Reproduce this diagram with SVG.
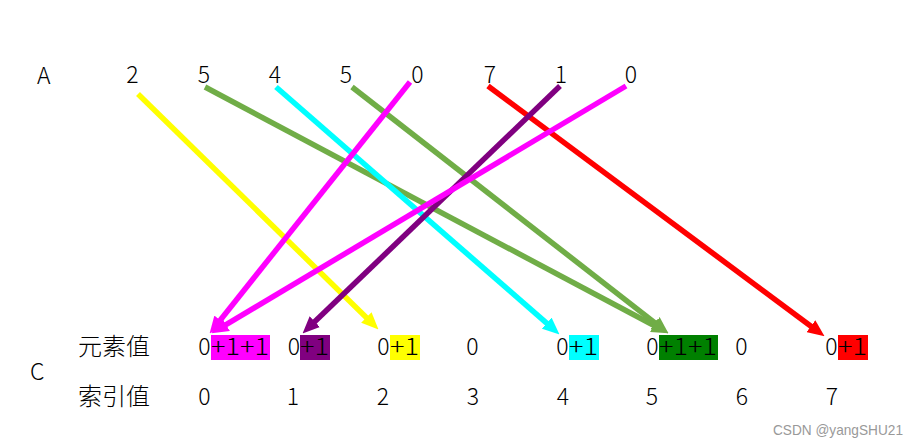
<svg xmlns="http://www.w3.org/2000/svg" width="919" height="447" viewBox="0 0 919 447">
<style>
text{font-family:"Noto Sans CJK SC","Liberation Sans",sans-serif;fill:#000;font-weight:300;}
.t{font-size:23px;}
.m{text-anchor:middle;}
.cn{font-size:24px;}
.ln{fill:none;stroke-width:5.5;}
.wm{font-family:"Liberation Sans",sans-serif;font-weight:400;font-size:14.5px;fill:#999;}
</style>
<defs>
<marker id="hY" viewBox="0 0 16 14" refX="6" refY="7" markerUnits="userSpaceOnUse" markerWidth="17" markerHeight="15" orient="auto"><path d="M0,0 L16,7 L0,14 z" fill="#FFFF00"/></marker>
<marker id="hG" viewBox="0 0 16 14" refX="6" refY="7" markerUnits="userSpaceOnUse" markerWidth="17" markerHeight="15" orient="auto"><path d="M0,0 L16,7 L0,14 z" fill="#70AD47"/></marker>
<marker id="hC" viewBox="0 0 16 14" refX="6" refY="7" markerUnits="userSpaceOnUse" markerWidth="17" markerHeight="15" orient="auto"><path d="M0,0 L16,7 L0,14 z" fill="#00FFFF"/></marker>
<marker id="hM" viewBox="0 0 16 14" refX="6" refY="7" markerUnits="userSpaceOnUse" markerWidth="17" markerHeight="15" orient="auto"><path d="M0,0 L16,7 L0,14 z" fill="#FF00FF"/></marker>
<marker id="hR" viewBox="0 0 16 14" refX="6" refY="7" markerUnits="userSpaceOnUse" markerWidth="17" markerHeight="15" orient="auto"><path d="M0,0 L16,7 L0,14 z" fill="#FF0000"/></marker>
<marker id="hP" viewBox="0 0 16 14" refX="6" refY="7" markerUnits="userSpaceOnUse" markerWidth="17" markerHeight="15" orient="auto"><path d="M0,0 L16,7 L0,14 z" fill="#800080"/></marker>
</defs>
<rect width="919" height="447" fill="#fff"/>

<g id="rowA">
<text class="t" x="37" y="84">A</text>
<text class="t m" x="132.5" y="83">2</text>
<text class="t m" x="204" y="83">5</text>
<text class="t m" x="275" y="83">4</text>
<text class="t m" x="346" y="83">5</text>
<text class="t m" x="417.5" y="83">0</text>
<text class="t m" x="490" y="83">7</text>
<text class="t m" x="561" y="83">1</text>
<text class="t m" x="631" y="83">0</text>
</g>

<g id="labelC">
<text class="t" x="30" y="380">C</text>
<text class="cn" x="78" y="355">元素值</text>
<text class="cn" x="78" y="405">索引值</text>
</g>

<g id="cells">
<rect x="211" y="335" width="59" height="25" fill="#FF00FF"/>
<rect x="300" y="335" width="30" height="25" fill="#800080"/>
<rect x="390" y="335" width="30" height="25" fill="#FFFF00"/>
<rect x="569" y="335" width="30" height="25" fill="#00FFFF"/>
<rect x="659" y="335" width="59" height="25" fill="#008000"/>
<rect x="838" y="335" width="30" height="25" fill="#FF0000"/>
<text class="t m" x="204.5" y="355">0</text>
<text class="t m" x="294" y="355">0</text>
<text class="t m" x="383.5" y="355">0</text>
<text class="t m" x="472.5" y="355">0</text>
<text class="t m" x="562.5" y="355">0</text>
<text class="t m" x="652.5" y="355">0</text>
<text class="t m" x="741.5" y="355">0</text>
<text class="t m" x="831.5" y="355">0</text>
<text class="t" x="211" y="355" textLength="58" lengthAdjust="spacingAndGlyphs">+1+1</text>
<text class="t" x="300" y="355" textLength="29" lengthAdjust="spacingAndGlyphs">+1</text>
<text class="t" x="390" y="355" textLength="29" lengthAdjust="spacingAndGlyphs">+1</text>
<text class="t" x="569" y="355" textLength="29" lengthAdjust="spacingAndGlyphs">+1</text>
<text class="t" x="659" y="355" textLength="58" lengthAdjust="spacingAndGlyphs">+1+1</text>
<text class="t" x="838" y="355" textLength="29" lengthAdjust="spacingAndGlyphs">+1</text>
</g>

<g id="index">
<text class="t m" x="204.5" y="405">0</text>
<text class="t m" x="293" y="405">1</text>
<text class="t m" x="383" y="405">2</text>
<text class="t m" x="473" y="405">3</text>
<text class="t m" x="563" y="405">4</text>
<text class="t m" x="652" y="405">5</text>
<text class="t m" x="742" y="405">6</text>
<text class="t m" x="832" y="405">7</text>
</g>

<g id="connectors">
<line class="ln" x1="138" y1="94" x2="370.9" y2="322" stroke="#FFFF00" marker-end="url(#hY)"/>
<line class="ln" x1="205" y1="87" x2="659.2" y2="328.3" stroke="#70AD47" marker-end="url(#hG)"/>
<line class="ln" x1="276" y1="87" x2="551.5" y2="327.4" stroke="#00FFFF" marker-end="url(#hC)"/>
<line class="ln" x1="352" y1="87" x2="660.1" y2="326.9" stroke="#70AD47" marker-end="url(#hG)"/>
<line class="ln" x1="410" y1="82" x2="216.2" y2="325.2" stroke="#FF00FF" marker-end="url(#hM)"/>
<line class="ln" x1="488" y1="86" x2="816" y2="330" stroke="#FF0000" marker-end="url(#hR)"/>
<line class="ln" x1="560" y1="86" x2="310.2" y2="326.1" stroke="#800080" marker-end="url(#hP)"/>
<line class="ln" x1="626" y1="86" x2="220.6" y2="327.9" stroke="#FF00FF" marker-end="url(#hM)"/>
</g>

<text class="wm" x="773" y="435" textLength="130" lengthAdjust="spacingAndGlyphs">CSDN @yangSHU21</text>
</svg>
